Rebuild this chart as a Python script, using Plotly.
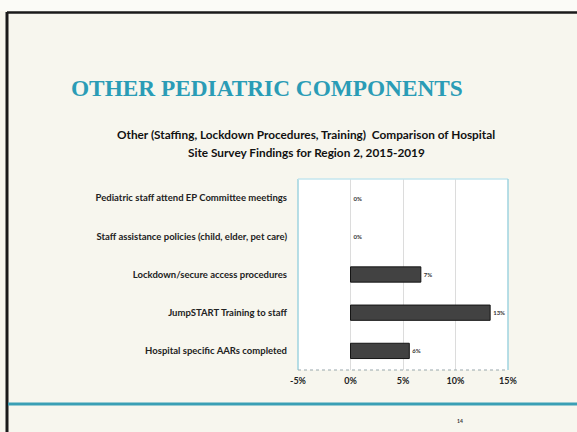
import plotly.graph_objects as go

categories = [
    "Pediatric staff attend EP Committee meetings",
    "Staff assistance policies (child, elder, pet care)",
    "Lockdown/secure access procedures",
    "JumpSTART Training to staff",
    "Hospital specific AARs completed",
]
values = [0.0, 0.0, 6.7, 13.3, 5.6]
tick_vals = [-5, 0, 5, 10, 15]
tick_text = ["-5%", "0%", "5%", "10%", "15%"]

W, H = 577, 432
L, R, T, B = 298, 508, 179, 370


def px(x):
    return (x - L) / (R - L)


def py(y):
    return (B - y) / (B - T)


fig = go.Figure()
fig.add_trace(go.Bar(
    y=categories,
    x=values,
    orientation="h",
    width=0.4,
    marker=dict(color="#424242",
                line=dict(color="#151515", width=[1 if v > 0 else 0 for v in values])),
    texttemplate="<b>%{x:.0f}%</b>",
    textposition="outside",
    cliponaxis=False,
    textfont=dict(family="Lato", size=6, color="#333333"),
    hoverinfo="skip",
))

shapes = [
    # plot frame (light teal)
    dict(type="line", xref="paper", yref="paper", x0=0, x1=0, y0=0, y1=1,
         line=dict(color="#9fd3df", width=1.5)),
    dict(type="line", xref="paper", yref="paper", x0=0, x1=1, y0=1, y1=1,
         line=dict(color="#c5e6ee", width=1.5)),
    dict(type="line", xref="paper", yref="paper", x0=1, x1=1, y0=0, y1=1,
         line=dict(color="#9fd3df", width=1.5)),
    dict(type="line", xref="paper", yref="paper", x0=0, x1=1, y0=0, y1=0,
         line=dict(color="#9aa7ab", width=1.2, dash="dot")),
    # area above the slide top
    dict(type="rect", xref="paper", yref="paper", x0=px(0), x1=px(577), y0=py(0), y1=py(11),
         fillcolor="#fbfbf7", line=dict(width=0), layer="below"),
    # slide frame
    dict(type="line", xref="paper", yref="paper", x0=px(7), x1=px(577), y0=py(12.5), y1=py(12.5),
         line=dict(color="#1a1a1a", width=2.5)),
    dict(type="line", xref="paper", yref="paper", x0=px(7), x1=px(7), y0=py(12), y1=py(432),
         line=dict(color="#1a1a1a", width=3)),
    # teal footer line
    dict(type="line", xref="paper", yref="paper", x0=px(8), x1=px(577), y0=py(404), y1=py(404),
         line=dict(color="#3a9fb5", width=3)),
]

annotations = [
    dict(text="<b>OTHER PEDIATRIC COMPONENTS</b>", xref="paper", yref="paper",
         x=px(267), y=py(88), showarrow=False, xanchor="center", yanchor="middle",
         font=dict(family="Liberation Serif", size=23.3, color="#2a9cb6")),
    dict(text="<b>Other (Staffing, Lockdown Procedures, Training)  Comparison of Hospital</b>",
         xref="paper", yref="paper", x=px(306), y=py(134), showarrow=False,
         xanchor="center", yanchor="middle",
         font=dict(family="Lato", size=11.8, color="#111111")),
    dict(text="<b>Site Survey Findings for Region 2, 2015-2019</b>",
         xref="paper", yref="paper", x=px(306), y=py(152), showarrow=False,
         xanchor="center", yanchor="middle",
         font=dict(family="Lato", size=11.8, color="#111111")),
    dict(text="<b>14</b>", xref="paper", yref="paper", x=px(460), y=py(421),
         showarrow=False, xanchor="center", yanchor="middle",
         font=dict(family="Lato", size=5, color="#333333")),
]

fig.update_layout(
    width=W, height=H,
    margin=dict(l=L, r=W - R, t=T, b=H - B, pad=0),
    paper_bgcolor="#f7f6ee",
    plot_bgcolor="#ffffff",
    showlegend=False,
    shapes=shapes,
    annotations=annotations,
)
fig.update_xaxes(
    range=[-5, 15], tickmode="array", tickvals=tick_vals,
    ticktext=["<b>%s</b>" % t for t in tick_text],
    showgrid=True, gridcolor="#dcdcdc", gridwidth=1,
    zeroline=False, showline=False, ticks="",
    tickfont=dict(family="Lato", size=9, color="#222222"),
    ticklabelstandoff=4,
)
fig.update_yaxes(
    categoryorder="array", categoryarray=categories, autorange="reversed",
    tickmode="array", tickvals=categories,
    ticktext=["<b>%s</b>" % c for c in categories],
    showgrid=False, zeroline=False, showline=False, ticks="",
    tickfont=dict(family="Lato", size=9.5, color="#222222"),
    ticklabelstandoff=10,
)

fig.write_html("out.html", config={"displayModeBar": False},
               post_script="document.body.style.margin='0';")
